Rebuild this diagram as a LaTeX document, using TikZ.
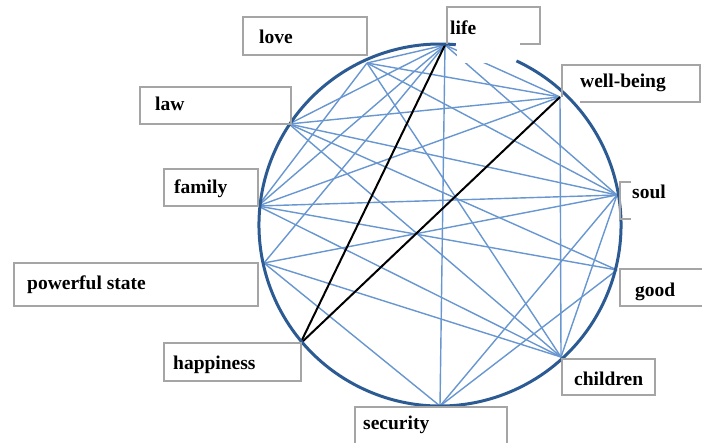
\documentclass[tikz,border=0pt]{standalone}
\usepackage{fontspec}
\setmainfont{Liberation Serif}
\definecolor{linkblue}{RGB}{104,150,208}
\definecolor{ringblue}{RGB}{44,90,146}
\definecolor{boxgray}{RGB}{165,165,165}
\begin{document}
\begin{tikzpicture}[x=1pt,y=-1pt,
  lbl/.style={anchor=base west, inner sep=0pt, font=\fontsize{19.5}{20}\selectfont\bfseries},
  link/.style={draw=linkblue, line width=1.4pt},
  keylink/.style={draw=black, line width=2pt},
  frame/.style={draw=boxgray, line width=1.4pt},
  ring/.style={draw=ringblue, line width=3pt}]
\useasboundingbox (0,0) rectangle (702,443);
% points on the circle
\coordinate (life) at (445,45);
\coordinate (love) at (367,63);
\coordinate (law) at (289,124);
\coordinate (family) at (258,206);
\coordinate (power) at (264,263);
\coordinate (happy) at (300,344);
\coordinate (secur) at (440,406);
\coordinate (child) at (561,357);
\coordinate (good) at (617,270);
\coordinate (soul) at (617,195);
\coordinate (well) at (560,97);
% blue connectors
\foreach \a/\b in {life/love, life/law, life/family, life/power, life/secur, life/well, life/soul,
  love/well, love/soul, love/child, love/family,
  law/well, law/soul, law/good, law/child,
  family/well, family/soul, family/good, family/child,
  power/soul, power/child, power/secur,
  well/child, soul/secur, soul/child, good/secur}
  \draw[link] (\a) -- (\b);
% black connectors
\draw[keylink] (life) -- (happy);
\draw[keylink] (well) -- (happy);
% white patch hiding part of the circle
\fill[white] (457,25) rectangle (518,63);
% circle
\draw[ring] (440,225) ++(-65:181) arc[start angle=-65, end angle=275, radius=181];
% label frames
\draw[frame] (243,17) rectangle (367,55);
\draw[frame] (520,44) -- (540,44) -- (540,7) -- (447,7) -- (447,44);
\draw[frame] (140,87) rectangle (291,124);
\draw[frame] (164,169) rectangle (258,206);
\draw[frame] (14,263) rectangle (258,306);
\draw[frame] (164,343) rectangle (301,381);
\draw[frame] (355,445) -- (355,407) -- (507,407) -- (507,445);
\draw[frame] (562,359) rectangle (655,395);
\draw[frame] (704,269) -- (620,269) -- (620,306) -- (704,306);
\draw[frame] (631,182) -- (620,182) -- (620,219) -- (631,219);
\draw[frame] (562,97) -- (562,65) -- (700,65) -- (700,102) -- (580,102);
% labels
\node[lbl] (tlove) at (259,44) {love};
\node[lbl] (tlife) at (450,35) {life};
\node[lbl] (tlaw) at (155,111) {law};
\node[lbl] (tfamily) at (174,194) {family};
\node[lbl] (tpower) at (27,290) {powerful state};
\node[lbl] (thappy) at (173,370) {happiness};
\node[lbl] (tsecur) at (363,430) {security};
\node[lbl] (tchild) at (574,386) {children};
\node[lbl] (tgood) at (635,297) {good};
\node[lbl] (tsoul) at (632,199) {soul};
\node[lbl] (twell) at (580,88) {well-being};
\end{tikzpicture}
\end{document}
